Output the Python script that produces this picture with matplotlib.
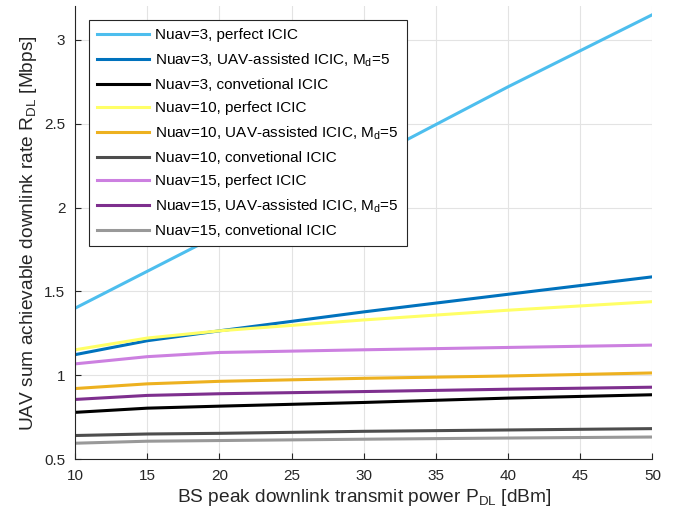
"""
UAV sum downlink rate vs BS peak transmit power
"""

import matplotlib
matplotlib.use('Agg')
import matplotlib.pyplot as plt

plt.rcParams['font.family'] = ['Liberation Sans', 'DejaVu Sans']
plt.rcParams['mathtext.fontset'] = 'custom'
plt.rcParams['mathtext.rm'] = 'Liberation Sans'
plt.rcParams['mathtext.it'] = 'Liberation Sans'

# data
p_dl = [10, 15, 20, 30, 40, 50]  # dBm

n3_perfect = [1.40, 1.62, 1.84, 2.27, 2.72, 3.15]
n3_uav = [1.123, 1.206, 1.265, 1.378, 1.483, 1.587]
n3_conv = [0.779, 0.804, 0.816, 0.838, 0.864, 0.884]
n10_perfect = [1.152, 1.222, 1.265, 1.330, 1.388, 1.439]
n10_uav = [0.921, 0.949, 0.964, 0.982, 0.996, 1.014]
n10_conv = [0.641, 0.650, 0.654, 0.666, 0.674, 0.682]
n15_perfect = [1.068, 1.111, 1.136, 1.152, 1.166, 1.180]
n15_uav = [0.856, 0.880, 0.890, 0.903, 0.917, 0.929]
n15_conv = [0.595, 0.607, 0.611, 0.619, 0.626, 0.632]

labels = ['Nuav=3, perfect ICIC',
          'Nuav=3, UAV-assisted ICIC, M$_{d}$=5',
          'Nuav=3, convetional ICIC',
          'Nuav=10, perfect ICIC',
          'Nuav=10, UAV-assisted ICIC, M$_{d}$=5',
          'Nuav=10, convetional ICIC',
          'Nuav=15, perfect ICIC',
          'Nuav=15, UAV-assisted ICIC, M$_{d}$=5',
          'Nuav=15, convetional ICIC']

series = [n3_perfect, n3_uav, n3_conv,
          n10_perfect, n10_uav, n10_conv,
          n15_perfect, n15_uav, n15_conv]
colors = ['#4DBEEE', '#0072BD', '#000000',
          '#FFFF66', '#EDB120', '#4D4D4D',
          '#CC80E0', '#7E2F8E', '#999999']

fig = plt.figure(figsize=(6.89, 5.2), dpi=100)
ax = fig.add_axes([0.109, 0.117, 0.838, 0.871])

for y, c, lab in zip(series, colors, labels):
    ax.plot(p_dl, y, color=c, lw=2.2, label=lab)

ax.set_xlim(10, 50)
ax.set_ylim(0.5, 3.2)
ax.set_xticks(range(10, 51, 5))
ax.set_yticks([0.5, 1, 1.5, 2, 2.5, 3])
ax.set_yticklabels(['0.5', '1', '1.5', '2', '2.5', '3'])
ax.grid(True, color='#e3e3e3', lw=0.8)
ax.set_axisbelow(True)
ax.spines['top'].set_visible(False)
ax.spines['right'].set_visible(False)
ax.spines['left'].set_color('#262626')
ax.spines['bottom'].set_color('#262626')
ax.tick_params(direction='in', length=4, labelsize=11, colors='#262626', pad=7)

ax.set_xlabel('BS peak downlink transmit power P$_{DL}$ [dBm]', fontsize=13.8, color='#262626',
              labelpad=3)
ax.set_ylabel('UAV sum achievable downlink rate R$_{DL}$ [Mbps]', fontsize=13.8, color='#262626',
              labelpad=4)

leg = ax.legend(loc='upper left', bbox_to_anchor=(89 / 689, 1 - 20 / 520),
                bbox_transform=fig.transFigure, borderaxespad=0, fontsize=11,
                fancybox=False, framealpha=1, edgecolor='#262626',
                handlelength=3.4, handletextpad=0.35, labelspacing=0.6,
                borderpad=0.55)
leg.get_frame().set_linewidth(0.8)

fig.savefig('out.png', dpi=100)
